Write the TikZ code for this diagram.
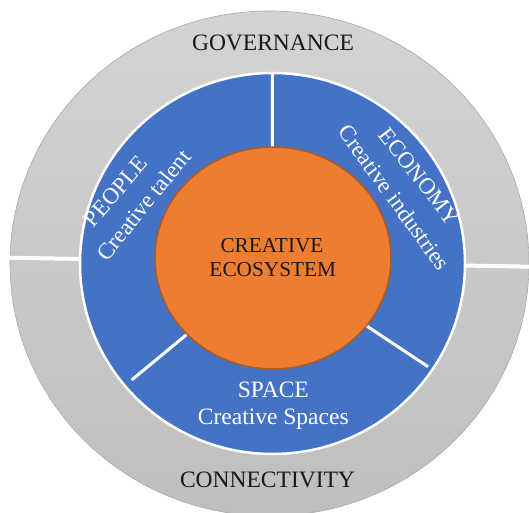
\documentclass[tikz,border=0pt]{standalone}
\usepackage{fontspec}
\setmainfont{Liberation Serif}
\definecolor{graytop}{HTML}{D3D3D3}
\definecolor{graybot}{HTML}{BFBFBF}
\definecolor{grayedge}{HTML}{A8A8A8}
\definecolor{ringblue}{HTML}{4472C4}
\definecolor{coreorange}{HTML}{ED7D31}
\definecolor{coreedge}{HTML}{AE5A21}
\begin{document}
\begin{tikzpicture}[x=1pt,y=1pt,
  bigtxt/.style={inner sep=0pt,anchor=base,font=\fontsize{23.5}{28}\selectfont},
  darktxt/.style={bigtxt,text=black!90},
  lighttxt/.style={bigtxt,text=white},
  rottxt/.style={lighttxt,font=\fontsize{23}{27}\selectfont},
  divider/.style={draw=white,line width=3pt},
  graydiv/.style={draw=white,line width=4pt}]
\useasboundingbox (0,0) rectangle (529,512);
% outer gray ring
\coordinate (gc) at (269.5,248.5);
\shade[top color=graytop,bottom color=graybot,draw=grayedge,line width=0.6pt]
  (gc) ellipse [x radius=259.5,y radius=252.5];
\coordinate (gl) at (8,254.3);
\coordinate (gr) at (531,245.3);
\draw[graydiv] (gl) -- (gr);
% blue ring
\coordinate (bc) at (272.5,248.5);
\fill[ringblue] (bc) ellipse [x radius=192.5,y radius=190.5];
\coordinate (dtop) at (272.3,439);
\coordinate (dll) at (131.7,132);
\coordinate (dlr) at (428,145.3);
\draw[divider] (bc) -- (dtop);
\draw[divider] (bc) -- (dll);
\draw[divider] (bc) -- (dlr);
\draw[white,line width=2.5pt] (bc) ellipse [x radius=192.5,y radius=190.5];
% core
\coordinate (oc) at (273,254);
\filldraw[fill=coreorange,draw=coreedge,line width=1.5pt] (oc) ellipse [x radius=118,y radius=111];
% texts
\node[darktxt] (gov) at (273,461) {GOVERNANCE};
\node[darktxt] (con) at (267.5,24.7) {CONNECTIVITY};
\node[darktxt,font=\fontsize{21.3}{25}\selectfont] (cre1) at (272,259.6) {CREATIVE};
\node[darktxt,font=\fontsize{21.3}{25}\selectfont] (cre2) at (272.8,235.3) {ECOSYSTEM};
\node[lighttxt] (spa1) at (273.3,114.3) {SPACE};
\node[lighttxt] (spa2) at (273.3,88) {Creative Spaces};
\node[rottxt,rotate=49] (peo1) at (121.4,315.8) {PEOPLE};
\node[rottxt,rotate=51] (peo2) at (149.7,302.3) {Creative talent};
\node[rottxt,rotate=-52] (eco1) at (413.3,330.7) {ECONOMY};
\node[rottxt,rotate=-54] (eco2) at (388,310) {Creative industries};
\end{tikzpicture}
\end{document}
